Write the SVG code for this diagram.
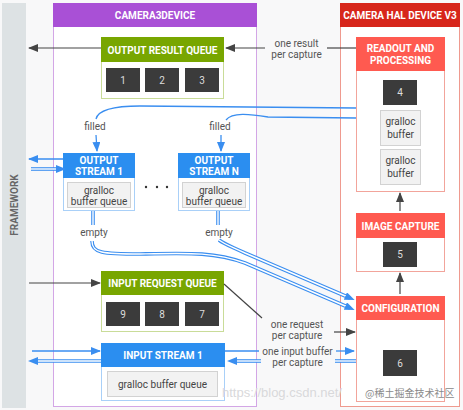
<svg xmlns="http://www.w3.org/2000/svg" width="463" height="410" viewBox="0 0 463 410">
<defs>
<marker id="ad" markerUnits="userSpaceOnUse" markerWidth="10" markerHeight="8" refX="9" refY="4" orient="auto"><path d="M0,0 L10,4 L0,8 z" fill="#444"/></marker>
<marker id="ab" markerUnits="userSpaceOnUse" markerWidth="10" markerHeight="8" refX="9" refY="4" orient="auto"><path d="M0,0 L10,4 L0,8 z" fill="#3a8ef0"/></marker>
<marker id="ab2" markerUnits="userSpaceOnUse" markerWidth="10" markerHeight="8" refX="5" refY="4" orient="auto"><path d="M0,0 L10,4 L0,8 z" fill="#3a8ef0"/></marker>
</defs>
<style>
.t{font-family:Roboto,"Liberation Sans",sans-serif;text-anchor:middle}
.h{font-size:10px;font-weight:bold;fill:#fff}
.lab{font-size:10px;fill:#555}
.num{font-size:10px;fill:#ddd}
.gt{font-size:10px;fill:#444}
.dk{fill:#3b3b3b}
.gb{fill:#f2f2f2;stroke:#d2d2d2;stroke-width:1}
.grn{fill:#78a600}
.grnb{fill:#fff;stroke:#c9dc98;stroke-width:1}
.blu{fill:#2b8ef0}
.blub{fill:#fff;stroke:#a9d0f8;stroke-width:1}
.red{fill:#ff5a50}
.redb{fill:#fff;stroke:#f2a49b;stroke-width:1}
.ld{fill:none;stroke:#444;stroke-width:1.2}
.lb{fill:none;stroke:#3a8ef0;stroke-width:1.3}
.d1{fill:none;stroke:#3a8ef0;stroke-width:3.6}
.d2{fill:none;stroke:#fff;stroke-width:1.4}
.dm{fill:none;stroke:none}
</style>
<rect x="0" y="0" width="463" height="410" fill="#f8f8f9"/>
<g id="framework">
<rect x="2" y="3" width="24" height="405" fill="#dde2e4"/>
<text class="t" transform="translate(17.5,205) rotate(-90)" font-size="10" font-weight="bold" fill="#666">FRAMEWORK</text>
</g>
<g id="camera3device">
<rect x="53.5" y="3.5" width="203" height="403" fill="#fff" stroke="#d3a6e6"/>
<rect x="53" y="3" width="204" height="24" fill="#a950d6"/>
<text class="t h" x="155" y="19">CAMERA3DEVICE</text>
</g>
<g id="haldevice">
<rect x="340.5" y="3.5" width="119" height="403" fill="#fff" stroke="#ef9a8f"/>
<rect x="340" y="3" width="120" height="24" fill="#d7261b"/>
<text class="t h" x="400" y="19">CAMERA HAL DEVICE V3</text>
</g>
<g id="output-result-queue">
<rect class="grnb" x="101.5" y="37.5" width="122" height="61"/>
<rect class="grn" x="101" y="37" width="123" height="25"/>
<text class="t h" x="162.5" y="53.5">OUTPUT RESULT QUEUE</text>
<rect class="dk" x="106" y="68" width="34" height="24"/><text class="t num" x="123" y="83.5">1</text>
<rect class="dk" x="145" y="68" width="34" height="24"/><text class="t num" x="162" y="83.5">2</text>
<rect class="dk" x="185" y="68" width="34" height="24"/><text class="t num" x="202" y="83.5">3</text>
</g>
<g id="output-stream-1">
<rect class="blub" x="63.5" y="153.5" width="71" height="57"/>
<rect class="blu" x="63" y="153" width="72" height="25"/>
<text class="t h" x="99" y="164">OUTPUT</text>
<text class="t h" x="99" y="175">STREAM 1</text>
<rect class="gb" x="67.5" y="182.5" width="63" height="25"/>
<text class="t gt" x="99" y="193.5">gralloc</text>
<text class="t gt" x="99" y="204.5">buffer queue</text>
</g>
<g id="dots">
<circle cx="146" cy="187" r="1.2" fill="#333"/><circle cx="157" cy="187" r="1.2" fill="#333"/><circle cx="167" cy="187" r="1.2" fill="#333"/>
</g>
<g id="output-stream-n">
<rect class="blub" x="178.5" y="153.5" width="71" height="57"/>
<rect class="blu" x="178" y="153" width="72" height="25"/>
<text class="t h" x="214" y="164">OUTPUT</text>
<text class="t h" x="214" y="175">STREAM N</text>
<rect class="gb" x="182.5" y="182.5" width="63" height="25"/>
<text class="t gt" x="214" y="193.5">gralloc</text>
<text class="t gt" x="214" y="204.5">buffer queue</text>
</g>
<g id="input-request-queue">
<rect class="grnb" x="101.5" y="271.5" width="122" height="60"/>
<rect class="grn" x="101" y="271" width="123" height="24"/>
<text class="t h" x="162.5" y="287">INPUT REQUEST QUEUE</text>
<rect class="dk" x="106" y="302" width="34" height="24"/><text class="t num" x="123" y="317.5">9</text>
<rect class="dk" x="145" y="302" width="34" height="24"/><text class="t num" x="162" y="317.5">8</text>
<rect class="dk" x="185" y="302" width="34" height="24"/><text class="t num" x="202" y="317.5">7</text>
</g>
<g id="input-stream-1">
<rect class="blub" x="101.5" y="343.5" width="123" height="57"/>
<rect class="blu" x="101" y="343" width="124" height="24"/>
<text class="t h" x="163" y="359">INPUT STREAM 1</text>
<rect class="gb" x="107.5" y="371.5" width="110" height="25"/>
<text class="t gt" x="162.5" y="388">gralloc buffer queue</text>
</g>
<g id="readout-processing">
<rect class="redb" x="356.5" y="37.5" width="88" height="154"/>
<rect class="red" x="356" y="37" width="89" height="34"/>
<text class="t h" x="400.5" y="52">READOUT AND</text>
<text class="t h" x="400.5" y="64">PROCESSING</text>
<rect class="dk" x="383" y="80" width="34" height="25"/><text class="t num" x="400" y="96">4</text>
<rect class="gb" x="380.5" y="110.5" width="40" height="35"/>
<text class="t gt" x="400.5" y="125">gralloc</text><text class="t gt" x="400.5" y="138">buffer</text>
<rect class="gb" x="380.5" y="149.5" width="40" height="35"/>
<text class="t gt" x="400.5" y="164">gralloc</text><text class="t gt" x="400.5" y="177">buffer</text>
</g>
<g id="image-capture">
<rect class="redb" x="356.5" y="213.5" width="88" height="58"/>
<rect class="red" x="356" y="213" width="89" height="25"/>
<text class="t h" x="400.5" y="229.5">IMAGE CAPTURE</text>
<rect class="dk" x="383" y="242" width="34" height="25"/><text class="t num" x="400" y="258">5</text>
</g>
<g id="configuration">
<rect class="redb" x="356.5" y="296.5" width="88" height="105"/>
<rect class="red" x="356" y="296" width="89" height="24"/>
<text class="t h" x="400.5" y="312">CONFIGURATION</text>
<rect class="dk" x="383" y="350" width="34" height="26"/><text class="t num" x="400" y="366.5">6</text>
</g>
<g id="connectors">
<path class="ld" d="M101,48 L29,48" marker-end="url(#ad)"/>
<path class="ld" d="M356,48 L327,48"/>
<path class="ld" d="M265,48 L226,48" marker-end="url(#ad)"/>
<text class="t lab" x="296.5" y="46.5">one result</text>
<text class="t lab" x="296.5" y="57.5">per capture</text>
<path class="ld" d="M400,211 L400,193" marker-end="url(#ad)"/>
<path class="ld" d="M400,294 L400,273" marker-end="url(#ad)"/>
<path class="lb" d="M356,108 L140,106 C112,106 98,110 96,119"/>
<path class="lb" d="M96,135 L97,151" marker-end="url(#ab)"/>
<path class="lb" d="M356,118 L268,117 C250,114 232,112 226,120"/>
<path class="lb" d="M221,135 L221,151" marker-end="url(#ab)"/>
<text class="t lab" x="95" y="130">filled</text>
<text class="t lab" x="220" y="130">filled</text>
<path class="lb" d="M63,159 L29,159" marker-end="url(#ab)"/>
<path class="d1" d="M31,169 L61,169"/><path class="d2" d="M31,169 L61,169"/><path class="dm" d="M31,169 L61,169" marker-end="url(#ab2)"/>
<path class="d1" d="M93,211 L93,225"/><path class="d2" d="M93,211 L93,225"/>
<path class="d1" d="M218,211 L218,225"/><path class="d2" d="M218,211 L218,225"/>
<text class="t lab" x="94" y="236">empty</text>
<text class="t lab" x="219" y="236">empty</text>
<path class="d1" d="M92,241 C92,253 102,254 140,254 C190,253 215,252 245,263 L350,308"/>
<path class="d2" d="M92,241 C92,253 102,254 140,254 C190,253 215,252 245,263 L350,308"/>
<path class="dm" d="M92,241 C92,253 102,254 140,254 C190,253 215,252 245,263 L350,308" marker-end="url(#ab2)"/>
<path class="d1" d="M219,240 C224,244 230,246 245,253 L350,298"/>
<path class="d2" d="M219,240 C224,244 230,246 245,253 L350,298"/>
<path class="dm" d="M219,240 C224,244 230,246 245,253 L350,298" marker-end="url(#ab2)"/>
<path class="ld" d="M29,283 L100,283" marker-end="url(#ad)"/>
<path class="ld" d="M224,284 L262,318"/>
<path class="ld" d="M334,332 L355,332" marker-end="url(#ad)"/>
<text class="t lab" x="297" y="328">one request</text>
<text class="t lab" x="297" y="339">per capture</text>
<path class="lb" d="M32,351 L100,351" marker-end="url(#ab)"/>
<path class="d1" d="M101,361 L33,361"/><path class="d2" d="M101,361 L33,361"/><path class="dm" d="M101,361 L33,361" marker-end="url(#ab2)"/>
<path class="lb" d="M225,351 L259,351"/>
<path class="lb" d="M336,351 L354,351" marker-end="url(#ab)"/>
<path class="d1" d="M356,361 L335,361"/><path class="d2" d="M356,361 L335,361"/>
<path class="d1" d="M261,361 L232,361"/><path class="d2" d="M261,361 L232,361"/><path class="dm" d="M261,361 L232,361" marker-end="url(#ab2)"/>
<text class="t lab" x="297.5" y="354.5">one input buffer</text>
<text class="t lab" x="297.5" y="365.5">per capture</text>
</g>
<g id="watermark">
<text x="222" y="397" font-family="'Liberation Sans',sans-serif" font-size="13" fill="#d9d9db">https://blog.csdn.net/</text>
<text x="365" y="397" font-family="'Noto Sans CJK SC',sans-serif" font-size="10" fill="#8a8a8a">@稀土掘金技术社区</text>
</g>
</svg>
